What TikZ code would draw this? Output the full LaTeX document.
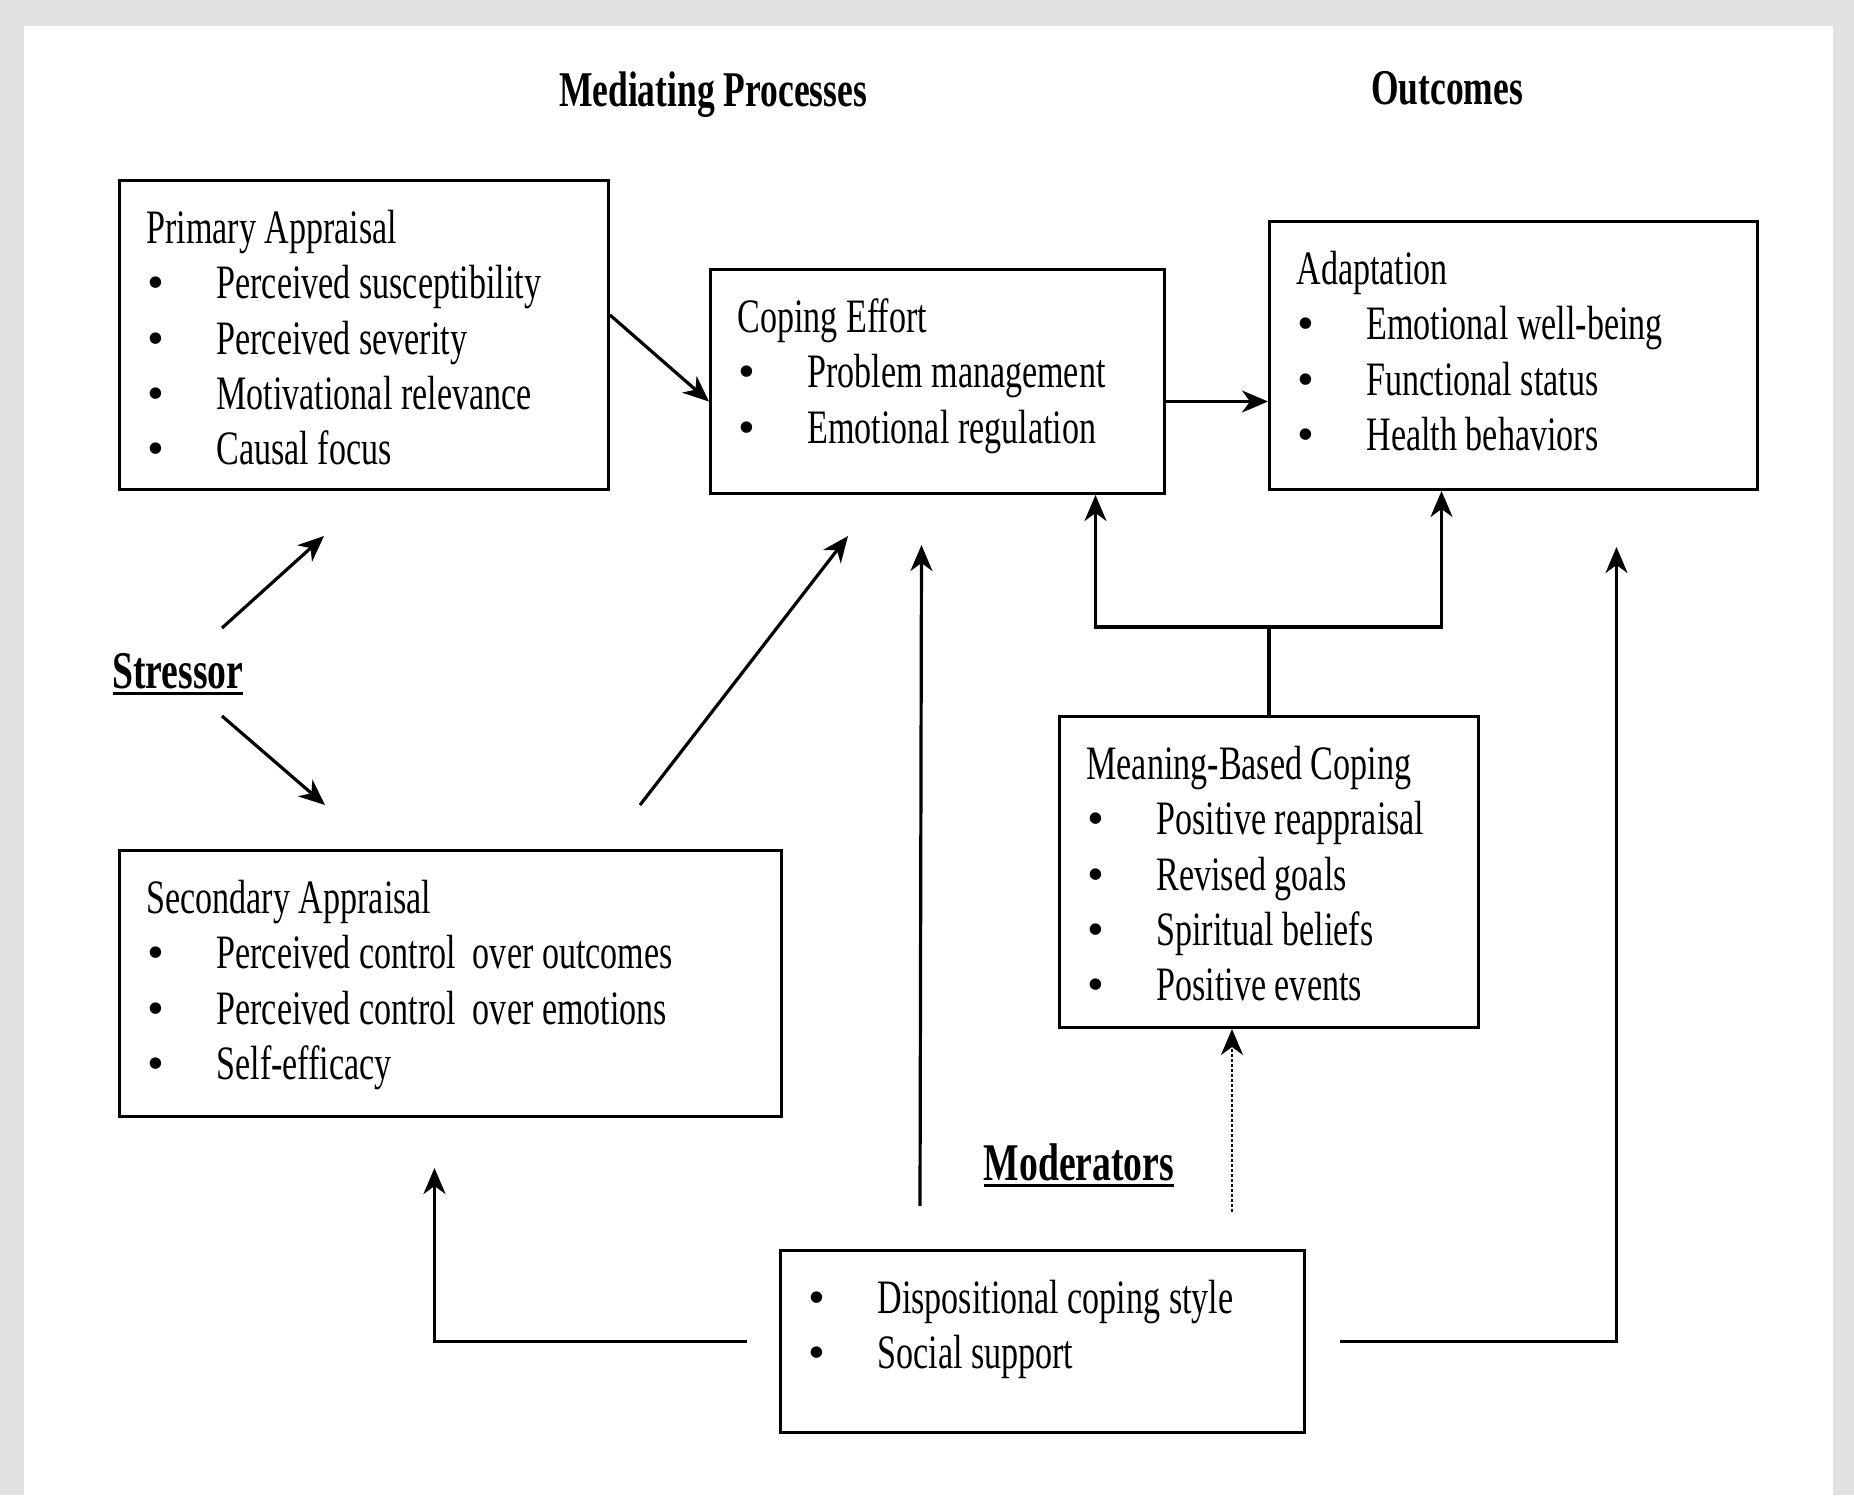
\documentclass[tikz,border=0pt]{standalone}
\usepackage{fontspec}
\setmainfont{Liberation Serif}[FakeStretch=0.71]
\newfontfamily\bulfont{Liberation Serif}
\usetikzlibrary{arrows.meta, positioning, calc}
\definecolor{framegray}{HTML}{E1E1E1}

\newcommand{\itm}{\makebox[35pt][l]{\hspace{0.5pt}{\bulfont\textbullet}}}
\newcommand{\boxtext}[3]{\parbox[t][#2][t]{#1}{\fontsize{24pt}{27.65pt}\selectfont\raggedright\leftskip=13.5pt\rule{0pt}{31.5pt}#3}}
\newcommand{\ulbold}[1]{\setbox0=\hbox{#1}\rlap{\copy0}\rule[-3.5pt]{\wd0}{1.6pt}}

\begin{document}
\begin{tikzpicture}[x=0.5pt, y=-0.5pt,
  stagebox/.style={draw, line width=1.5pt, inner sep=0pt, anchor=north west},
  heading/.style={font=\bfseries\fontsize{25pt}{30pt}\selectfont, inner sep=0pt, anchor=base},
  subhead/.style={font=\bfseries\fontsize{26.5pt}{30pt}\selectfont, inner sep=0pt, anchor=base},
  link/.style={line width=1.6pt},
  arrow/.style={line width=1.6pt, -{Stealth[length=13pt, width=11pt, inset=4pt]}},
  dotarrow/.style={line width=1.2pt, dash pattern=on 1.5pt off 1pt, -{Stealth[length=13pt, width=11pt, inset=4pt]}}]
\useasboundingbox (0,0) rectangle (1854,1495);
\fill[framegray] (0,0) rectangle (1854,1495);
\fill[white] (24,26) rectangle (1833,1495);

% headings
\node[heading] (medproc) at (713,106) {Mediating Processes};
\node[heading] (outcomes) at (1447,104) {Outcomes};
\node[subhead] (stressor) at (178,688) {\ulbold{Stressor}};
\node[subhead] (moderators) at (1079,1180) {\ulbold{Moderators}};

% boxes
\node[stagebox] (pa) at (118,179) {\boxtext{244.5pt}{154.5pt}{Primary Appraisal\\
  \itm Perceived susceptibility\\ \itm Perceived severity\\ \itm Motivational relevance\\ \itm Causal focus}};
\node[stagebox] (ce) at (709,268) {\boxtext{227pt}{112pt}{Coping Effort\\
  \itm Problem management\\ \itm Emotional regulation}};
\node[stagebox] (ad) at (1268,220) {\boxtext{244pt}{134pt}{Adaptation\\
  \itm Emotional well-being\\ \itm Functional status\\ \itm Health behaviors}};
\node[stagebox] (mbc) at (1058,715) {\boxtext{209.5pt}{155.5pt}{Meaning-Based Coping\\
  \itm Positive reappraisal\\ \itm Revised goals\\ \itm Spiritual beliefs\\ \itm Positive events}};
\node[stagebox] (sa) at (118,849) {\boxtext{331pt}{133pt}{Secondary Appraisal\\
  \itm Perceived control~ over outcomes\\ \itm Perceived control~ over emotions\\ \itm Self-efficacy}};
\node[stagebox] (mod) at (779,1249) {\boxtext{262pt}{91pt}{\itm Dispositional coping style\\ \itm Social support}};

% free ends
\coordinate (stup) at (222,628);
\coordinate (stupend) at (324,536);
\coordinate (stdown) at (222,716);
\coordinate (stdownend) at (325,805);
\coordinate (saout) at (640,805);
\coordinate (saoutend) at (848,536);
\coordinate (ceout) at ([yshift=-10pt]ce.east);
\coordinate (jn) at ([yshift=44pt]mbc.north);
\coordinate (modtop) at (920,1206);
\coordinate (ceup) at ([xshift=-8pt,yshift=-25pt]ce.south);
\coordinate (moddot) at (1232,1212);
\coordinate (modleft) at ([xshift=-16pt]mod.west);
\coordinate (saup) at ([xshift=-8pt,yshift=-25pt]sa.south);
\coordinate (modright) at ([xshift=17pt]mod.east);
\coordinate (adup) at ([xshift=51.5pt,yshift=-28pt]ad.south);

% connectors
\draw[arrow] ([yshift=10pt]pa.east) -- ([yshift=-10pt]ce.west);
\draw[arrow] (ceout) -- (ceout -| ad.west);
\draw[arrow] (stup) -- (stupend);
\draw[arrow] (stdown) -- (stdownend);
\draw[arrow] (saout) -- (saoutend);
\draw[link] (mbc.north) -- (jn);
\draw[arrow] (jn) -| ([xshift=79pt]ce.south);
\draw[arrow] (jn) -| ([xshift=-36pt]ad.south);
\draw[arrow] (modtop) -- (ceup);
\draw[dotarrow] (moddot) -- (moddot |- mbc.south);
\draw[arrow] (modleft) -| (saup);
\draw[arrow] (modright) -| (adup);
\end{tikzpicture}
\end{document}
